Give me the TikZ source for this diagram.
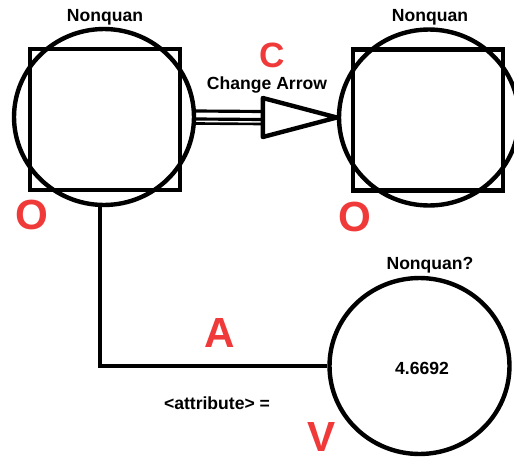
\documentclass[tikz,border=0pt]{standalone}
\usepackage{fontspec}
\setmainfont{Liberation Sans}
\usetikzlibrary{positioning, shapes.geometric, calc}
\definecolor{letterRed}{RGB}{240,58,58}

\begin{document}
\begin{tikzpicture}[x=0.02cm, y=-0.02cm, line width=2.5pt,
		blob/.style={draw, ellipse, minimum width=3.6cm, minimum height=3.52cm, inner sep=0pt},
		box/.style={draw, rectangle, minimum width=3cm, minimum height=2.82cm, inner sep=0pt},
		tag/.style={font=\bfseries\fontsize{10}{12}\selectfont, inner sep=0pt},
		letter/.style={font=\bfseries\fontsize{24}{28}\selectfont, text=letterRed, inner sep=0pt}]
	\useasboundingbox (0,0) rectangle (514,460);
	\clip (0,0) rectangle (514,460);
	% the two concepts at the top
	\node[blob] (nqL) at (104,117) {};
	\node[box] (sqL) at (105,119.5) {};
	\node[blob] (nqR) at (429,117.5) {};
	\node[box] (sqR) at (428,120) {};
	\node[tag] (tL) at (105,17) {Nonquan};
	\node[tag] (tR) at (430,17) {Nonquan};
	\node[letter] (oL) at (32,215) {O};
	\node[letter] (oR) at (355,217) {O};
	% change arrow
	\coordinate (base) at ($(nqR.west)+(-74,0)$);
	\foreach \dy/\w in {-6/1.8pt, 2/1.8pt, 6.5/1.5pt}
		\draw[line width=\w] ($(nqL.east)+(0,\dy)$) -- ($(base)+(0,\dy)$);
	\draw[line join=round] ($(base)+(0,-19.5)$) -- (nqR.west) -- ($(base)+(0,19.5)$) -- cycle;
	\node[tag] (chg) at (267,85) {Change Arrow};
	\node[letter, font=\bfseries\fontsize{20}{24}\selectfont] (c) at (272,55) {C};
	% attribute value
	\node[blob] (val) at (419.5,366) {};
	\node[tag] (num) at (422,368) {4.6692};
	\node[tag] (tV) at (430,265) {Nonquan?};
	\draw ($(nqL.south)+(-4,0)$) |- (val.west);
	\node[tag] (attr) at (217,403) {<attribute> =};
	\node[letter] (a) at (220,333) {A};
	\node[letter] (v) at (322,437) {V};
\end{tikzpicture}
\end{document}
